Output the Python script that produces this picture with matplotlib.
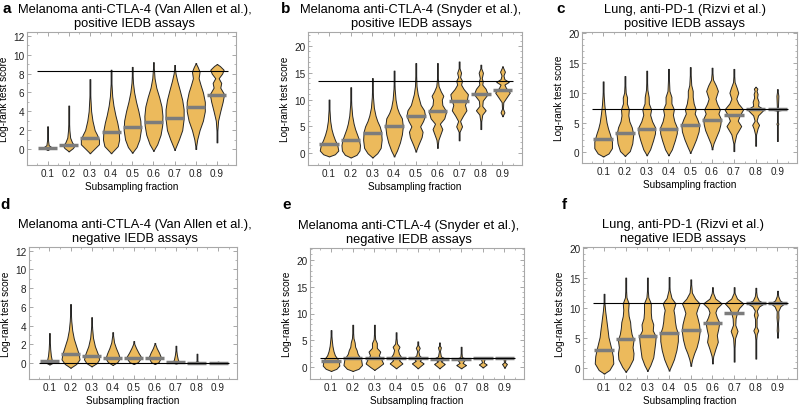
import matplotlib
matplotlib.use("Agg")
import matplotlib.pyplot as plt
import numpy as np

plt.rcParams['font.family'] = ['Liberation Sans', 'DejaVu Sans']

fractions = [0.1, 0.2, 0.3, 0.4, 0.5, 0.6, 0.7, 0.8, 0.9]
frac_labels = ['0.1', '0.2', '0.3', '0.4', '0.5', '0.6', '0.7', '0.8', '0.9']

# ---- panel a: Van Allen, positive
a_title = "Melanoma anti-CTLA-4 (Van Allen et al.),\npositive IEDB assays"
a_ref = 8.3
a_medians = [0.15, 0.4, 1.2, 1.8, 2.3, 2.85, 3.3, 4.4, 5.7]
a_shapes = [
    [(-0.1, 0), (0.05, 0.35), (0.2, 0.4), (0.4, 0.12), (1.0, 0.04), (2.4, 0)],
    [(-0.25, 0), (0.1, 0.45), (0.35, 0.6), (0.7, 0.35), (1.2, 0.15), (2.0, 0.07), (3, 0.03), (4.6, 0)],
    [(-0.45, 0), (0.5, 0.95), (1.0, 0.95), (1.5, 0.75), (2, 0.5), (3, 0.27), (4, 0.13), (5.5, 0.05), (7.4, 0)],
    [(-0.45, 0), (0.3, 0.7), (1.0, 0.85), (2.0, 0.8), (2.8, 0.65), (3.6, 0.45), (4.6, 0.25), (5.6, 0.12), (7, 0.04), (8.4, 0)],
    [(-0.4, 0), (0.2, 0.45), (1.0, 0.75), (2.0, 0.9), (3.0, 0.85), (4.0, 0.65), (5.0, 0.4), (6.0, 0.2), (7.0, 0.08), (8.7, 0)],
    [(-0.2, 0), (0.5, 0.4), (1.5, 0.75), (2.5, 0.92), (3.5, 0.95), (4.5, 0.85), (5.5, 0.6), (6.5, 0.3), (7.5, 0.12), (9.2, 0)],
    [(-0.1, 0), (1.0, 0.45), (2.0, 0.8), (3.2, 0.95), (4.2, 0.95), (5.2, 0.8), (6.2, 0.55), (7.2, 0.28), (8.0, 0.1), (8.9, 0)],
    [(0, 0), (1, 0.15), (2, 0.4), (3, 0.75), (4, 0.95), (5, 0.95), (6, 0.75), (6.8, 0.5), (7.5, 0.3), (8.2, 0.4), (8.7, 0.2), (9.1, 0)],
    [(0.7, 0), (2, 0.05), (3, 0.12), (4, 0.35), (5, 0.6), (5.8, 0.75), (6.5, 0.35), (7.0, 0.45), (7.5, 0.18), (8.0, 0.55), (8.4, 0.7), (8.8, 0.3), (9.0, 0)],
]

# ---- panel b: Snyder, positive
b_title = "Melanoma anti-CTLA-4 (Snyder et al.),\npositive IEDB assays"
b_ref = 13.4
b_medians = [1.8, 2.5, 3.7, 5.0, 6.9, 7.8, 9.8, 11.0, 11.7]
b_shapes = [
    [(-0.6, 0), (-0.2, 0.6), (0.5, 0.95), (1.5, 0.85), (2.5, 0.6), (3.5, 0.4), (4.5, 0.25), (6, 0.12), (8, 0.05), (10, 0)],
    [(-0.8, 0), (-0.3, 0.6), (0.5, 0.9), (1.5, 0.95), (2.5, 0.85), (3.5, 0.65), (4.5, 0.45), (5.5, 0.3), (7, 0.15), (9, 0.06), (12.3, 0)],
    [(-0.8, 0), (0, 0.5), (1, 0.85), (2.5, 0.95), (4, 0.9), (5, 0.75), (6, 0.5), (7, 0.32), (8.5, 0.15), (10.5, 0.06), (14, 0)],
    [(-0.6, 0), (0.5, 0.3), (2, 0.6), (3.5, 0.8), (5, 0.9), (6.5, 0.8), (7.5, 0.5), (8.5, 0.3), (10, 0.15), (12, 0.06), (15.4, 0)],
    [(0.3, 0), (1.5, 0.25), (3, 0.6), (4, 0.7), (5, 0.45), (6, 0.75), (7, 0.95), (8, 0.85), (9, 0.5), (10, 0.35), (11, 0.2), (12.5, 0.08), (16.8, 0)],
    [(1.0, 0), (2.5, 0.1), (3.5, 0.3), (4.5, 0.5), (5.5, 0.25), (6.5, 0.7), (7.8, 0.9), (9.0, 0.5), (10.0, 0.45), (10.7, 0.6), (11.5, 0.35), (12.5, 0.12), (14, 0.04), (16.8, 0)],
    [(2.4, 0), (4, 0.05), (5, 0.3), (6, 0.1), (7, 0.4), (8, 0.75), (9, 0.6), (10, 0.8), (11, 0.9), (12, 0.45), (12.8, 0.2), (13.5, 0.3), (14.2, 0.1), (15, 0.2), (15.8, 0.05), (17.1, 0)],
    [(4.5, 0), (6, 0.05), (7.2, 0.15), (8, 0.5), (8.8, 0.15), (9.8, 0.2), (11, 0.7), (12, 0.5), (12.8, 0.15), (13.4, 0.2), (14, 0.1), (15, 0.22), (15.8, 0.05), (16.5, 0)],
    [(6.9, 0), (7.6, 0.2), (8.3, 0.05), (9.5, 0.08), (10.5, 0.45), (11.3, 0.75), (12.2, 0.35), (12.8, 0.2), (13.3, 0.65), (13.8, 0.2), (14.5, 0.1), (15.2, 0.25), (16.2, 0)],
]

# ---- panel c: Rizvi, positive
c_title = "Lung, anti-PD-1 (Rizvi et al.)\npositive IEDB assays"
c_ref = 7.2
c_medians = [2.3, 3.3, 3.9, 3.9, 4.6, 5.4, 6.3, 7.2, 7.2]
c_shapes = [
    [(-0.7, 0), (-0.2, 0.55), (0.7, 0.9), (1.8, 0.9), (3, 0.7), (4, 0.5), (5, 0.35), (6.5, 0.22), (8, 0.12), (9.5, 0.06), (11.9, 0)],
    [(-0.6, 0), (0.2, 0.5), (1.5, 0.75), (3, 0.85), (4.2, 0.7), (5.2, 0.45), (6.2, 0.35), (7.2, 0.4), (8.2, 0.2), (9.2, 0.22), (10, 0.08), (12.8, 0)],
    [(-0.5, 0), (0.5, 0.35), (2, 0.65), (3.2, 0.85), (4.2, 0.85), (5.2, 0.55), (6.3, 0.35), (7.2, 0.45), (8.2, 0.22), (9.3, 0.2), (10.5, 0.07), (13.7, 0)],
    [(-0.5, 0), (0.5, 0.35), (2, 0.65), (3.2, 0.85), (4.2, 0.85), (5.2, 0.6), (6.3, 0.45), (7.2, 0.55), (8.2, 0.3), (9.3, 0.3), (10.3, 0.1), (14.0, 0)],
    [(-0.1, 0), (1, 0.3), (2.2, 0.6), (3.5, 0.85), (4.6, 0.92), (5.6, 0.7), (6.5, 0.45), (7.2, 0.55), (8.2, 0.35), (9.3, 0.25), (10.3, 0.25), (11.3, 0.1), (14.3, 0)],
    [(0.5, 0), (1.5, 0.15), (2.5, 0.4), (3.7, 0.7), (4.7, 0.85), (5.6, 0.9), (6.5, 0.65), (7.2, 0.8), (8.2, 0.5), (9.0, 0.35), (10.3, 0.6), (11.2, 0.4), (12.2, 0.1), (14.2, 0)],
    [(0.2, 0), (1.5, 0.05), (3, 0.25), (4.4, 0.75), (5.3, 0.4), (6.2, 0.6), (7.2, 0.95), (8.2, 0.45), (9.0, 0.25), (10.0, 0.45), (10.8, 0.3), (11.8, 0.08), (14, 0)],
    [(1.1, 0), (3, 0.05), (4, 0.2), (4.6, 0.35), (5.3, 0.1), (6.2, 0.25), (7.2, 0.85), (7.8, 0.25), (8.5, 0.3), (9.2, 0.15), (9.8, 0.2), (10.3, 0.1), (10.7, 0.18), (11.0, 0)],
    [(1.9, 0), (4.5, 0.03), (4.8, 0.1), (5.1, 0.03), (7.0, 0.05), (7.2, 0.8), (7.4, 0.05), (9.5, 0.1), (10.6, 0)],
]

# ---- panel d: Van Allen, negative
d_title = "Melanoma anti-CTLA-4 (Van Allen et al.),\nnegative IEDB assays"
d_ref = 0.05
d_medians = [0.2, 1.0, 0.8, 0.55, 0.55, 0.5, 0.1, 0.05, 0.05]
d_shapes = [
    [(-0.15, 0), (0.0, 0.3), (0.3, 0.25), (0.8, 0.15), (1.5, 0.08), (2.5, 0.03), (3.2, 0)],
    [(-0.5, 0), (-0.1, 0.6), (0.4, 0.95), (1.0, 0.85), (1.8, 0.6), (2.6, 0.35), (3.5, 0.18), (4.5, 0.08), (5.5, 0.03), (6.3, 0)],
    [(-0.35, 0), (0, 0.55), (0.4, 0.8), (1.0, 0.65), (1.8, 0.35), (2.7, 0.15), (3.7, 0.06), (4.9, 0)],
    [(-0.2, 0), (0.1, 0.5), (0.5, 0.75), (1.0, 0.6), (1.6, 0.35), (2.2, 0.15), (3.3, 0)],
    [(-0.1, 0), (0.1, 0.45), (0.6, 0.8), (1.1, 0.5), (1.6, 0.25), (2.0, 0.08), (2.35, 0)],
    [(-0.1, 0), (0.1, 0.4), (0.6, 0.65), (1.1, 0.45), (1.6, 0.2), (2.15, 0)],
    [(-0.05, 0), (0.05, 0.35), (0.4, 0.2), (0.9, 0.1), (1.4, 0.04), (1.85, 0)],
    [(-0.02, 0), (0.05, 0.3), (0.2, 0.03), (1.0, 0)],
    [(-0.02, 0), (0.05, 0.3), (0.15, 0)],
]

# ---- panel e: Snyder, negative
e_title = "Melanoma anti-CTLA-4 (Snyder et al.),\nnegative IEDB assays"
e_ref = 1.65
e_medians = [1.1, 1.65, 1.7, 1.7, 1.7, 1.6, 1.6, 1.65, 1.65]
e_shapes = [
    [(-0.7, 0), (-0.3, 0.55), (0.3, 0.85), (1.0, 0.8), (1.6, 0.65), (2.2, 0.4), (3.0, 0.25), (4.0, 0.14), (5.2, 0.07), (6.9, 0)],
    [(-0.7, 0), (-0.3, 0.6), (0.4, 0.95), (1.5, 0.85), (2.5, 0.5), (3.2, 0.4), (3.8, 0.25), (4.6, 0.2), (5.4, 0.08), (6.5, 0.04), (7.9, 0)],
    [(-0.5, 0), (0, 0.4), (0.7, 0.9), (1.5, 0.7), (2.2, 0.45), (2.9, 0.6), (3.6, 0.25), (4.5, 0.25), (5.2, 0.08), (6.5, 0.03), (7.9, 0)],
    [(-0.2, 0), (0.7, 0.65), (1.3, 0.3), (1.8, 0.55), (2.5, 0.3), (3.2, 0.2), (3.8, 0.35), (4.4, 0.1), (5.5, 0.04), (6.5, 0)],
    [(-0.2, 0), (0.1, 0.2), (0.7, 0.6), (1.2, 0.2), (1.7, 0.45), (2.2, 0.15), (3.0, 0.06), (3.6, 0.2), (4.1, 0.05), (4.8, 0)],
    [(-0.2, 0), (0.6, 0.55), (1.1, 0.15), (1.6, 0.6), (2.0, 0.15), (3.0, 0.05), (3.7, 0.15), (4.0, 0.04), (4.6, 0)],
    [(-0.2, 0), (0.4, 0.5), (0.8, 0.15), (1.6, 0.45), (1.9, 0.08), (3.0, 0.03), (3.8, 0)],
    [(-0.05, 0), (0.5, 0.4), (0.9, 0.08), (1.6, 0.2), (1.9, 0)],
    [(-0.1, 0), (0.6, 0.25), (0.9, 0.05), (1.6, 0.1), (1.8, 0)],
]

# ---- panel f: Rizvi, negative
f_title = "Lung, anti-PD-1 (Rizvi et al.)\nnegative IEDB assays"
f_ref = 10.8
f_medians = [3.0, 4.8, 5.3, 5.8, 6.3, 7.6, 9.2, 10.8, 10.8]
f_shapes = [
    [(-0.9, 0), (-0.3, 0.55), (0.8, 0.95), (2.0, 0.9), (3.2, 0.75), (4.2, 0.6), (5.2, 0.45), (6.2, 0.38), (7.2, 0.3), (8.5, 0.2), (9.5, 0.12), (10.8, 0.05), (12.4, 0)],
    [(-0.6, 0), (0.2, 0.35), (1.5, 0.75), (2.5, 0.8), (3.5, 0.7), (4.7, 0.8), (5.7, 0.6), (6.7, 0.5), (7.7, 0.45), (8.7, 0.3), (9.7, 0.25), (10.8, 0.3), (11.8, 0.08), (13, 0.04), (15.1, 0)],
    [(-0.45, 0), (0.5, 0.3), (1.8, 0.6), (3, 0.7), (4.3, 0.8), (5.3, 0.85), (6.3, 0.55), (7.3, 0.6), (8.3, 0.4), (9.3, 0.35), (10.8, 0.35), (11.8, 0.1), (13, 0.04), (15.1, 0)],
    [(-0.4, 0), (0.5, 0.25), (1.5, 0.5), (3, 0.75), (4.5, 0.9), (5.8, 0.9), (6.8, 0.7), (7.8, 0.6), (8.8, 0.55), (9.7, 0.45), (10.8, 0.65), (11.7, 0.25), (13, 0.06), (15.2, 0)],
    [(0.4, 0), (1.5, 0.15), (2.5, 0.35), (3.5, 0.6), (4.8, 0.8), (6.2, 0.92), (7.3, 0.85), (8.3, 0.7), (9.2, 0.55), (10.0, 0.7), (10.8, 0.9), (11.6, 0.45), (12.6, 0.12), (14.8, 0)],
    [(0.8, 0), (2, 0.08), (3.2, 0.3), (4.4, 0.55), (5.5, 0.45), (6.6, 0.6), (7.6, 0.7), (8.5, 0.45), (9.3, 0.3), (10.0, 0.45), (10.8, 0.95), (11.6, 0.3), (12.5, 0.08), (13.5, 0)],
    [(1.1, 0), (3, 0.03), (5, 0.1), (6.2, 0.35), (7.2, 0.12), (8.3, 0.15), (9.3, 0.3), (10.0, 0.5), (10.8, 0.95), (11.6, 0.3), (12.5, 0.06), (13.5, 0)],
    [(1.6, 0), (4.5, 0.03), (5.7, 0.1), (6.3, 0.25), (6.9, 0.08), (8.2, 0.08), (8.9, 0.2), (9.6, 0.1), (10.3, 0.35), (10.8, 0.85), (11.3, 0.3), (12.0, 0.1), (13.4, 0)],
    [(5.1, 0), (6.3, 0.08), (7.5, 0.05), (8.5, 0.1), (9.5, 0.08), (10.3, 0.3), (10.8, 0.7), (11.3, 0.25), (12.0, 0.08), (12.9, 0)],
]

# letter, title, ref line, medians, shapes, y limits, y ticks,
# axes box in px (l, r, top, bottom), title centre x, letter (x, y) in px
panels = [
    ('a', a_title, a_ref, a_medians, a_shapes, (-1.7, 12.4), range(0, 13, 2), (27, 236, 33, 166), 135, (7, 9)),
    ('b', b_title, b_ref, b_medians, b_shapes, (-2.2, 22.6), range(0, 21, 5), (308, 522, 33, 166), 411, (286, 9)),
    ('c', c_title, c_ref, c_medians, c_shapes, (-1.8, 20.2), range(0, 21, 5), (582, 797, 33, 164), 685, (561, 9)),
    ('d', d_title, d_ref, d_medians, d_shapes, (-1.7, 12.4), range(0, 13, 2), (29, 237, 248, 380), 135, (5, 205)),
    ('e', e_title, e_ref, e_medians, e_shapes, (-2.2, 22.2), range(0, 21, 5), (310, 524, 249, 380), 409, (287, 205)),
    ('f', f_title, f_ref, f_medians, f_shapes, (-1.8, 20.2), range(0, 21, 5), (583, 797, 248, 380), 683, (564, 205)),
]

W, H = 800, 406
fill_col = '#ECBA5C'
edge_col = '#262626'
med_col = '#7c7c7c'
half = 0.045

fig = plt.figure(figsize=(W / 100, H / 100), dpi=100)

for letter, title, ref, meds, shapes, ylim, yticks, box, tx, lpos in panels:
    l, r, t, b = box
    ax = fig.add_axes([l / W, 1 - b / H, (r - l) / W, (b - t) / H])

    for x, prof, m in zip(fractions, shapes, meds):
        ky = [p[0] for p in prof]
        kw = [p[1] for p in prof]
        yy = np.linspace(ky[0], ky[-1], 300)
        ww = np.interp(yy, ky, kw) * half
        ww = np.maximum(ww, 0.002)
        ax.fill_betweenx(yy, x - ww, x + ww, facecolor=fill_col,
                         edgecolor=edge_col, linewidth=0.7, zorder=2)
        ax.hlines(m, x - half, x + half, colors=med_col, linewidth=2.5, zorder=3)

    ax.hlines(ref, 0.05, 0.95, colors='black', linewidth=0.8, zorder=4)

    ax.set_xlim(0.003, 0.99)
    ax.set_ylim(*ylim)
    ax.set_xticks(fractions)
    ax.set_xticklabels(frac_labels)
    ax.set_yticks(list(yticks))
    ax.set_xticks(np.arange(0.05, 0.99, 0.05), minor=True)
    ax.set_yticks(np.arange(0, ylim[1], 1), minor=True)
    ax.tick_params(which='both', direction='in', top=True, right=True,
                   color='#9a9a9a', labelsize=7.2, pad=2, labelcolor='#222222')
    ax.tick_params(which='major', length=3, width=0.6)
    ax.tick_params(which='minor', length=1.6, width=0.5)
    for s in ax.spines.values():
        s.set_color('#a8a8a8')
        s.set_linewidth(0.8)
    ax.set_xlabel('Subsampling fraction', fontsize=7.2, labelpad=2)
    ax.set_ylabel('Log-rank test score', fontsize=7.2, labelpad=3)

    fig.text(tx / W, 1 - (t - 16) / H, title, ha='center', va='center',
             fontsize=9.3, linespacing=1.15)
    fig.text(lpos[0] / W, 1 - lpos[1] / H, letter, ha='center', va='center',
             fontsize=11, fontweight='bold')

fig.savefig('out.png', dpi=100)
